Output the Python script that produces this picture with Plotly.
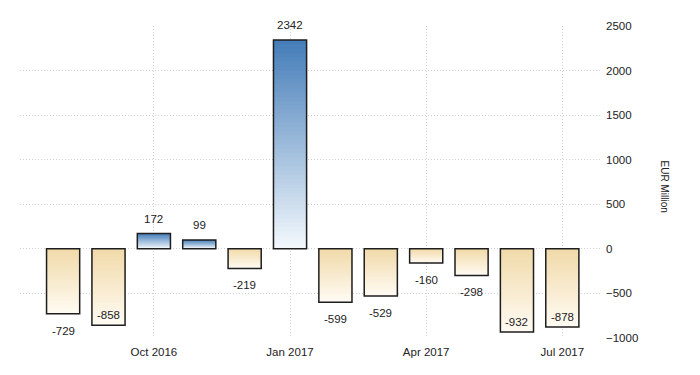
import plotly.graph_objects as go

months = ["Aug 2016", "Sep 2016", "Oct 2016", "Nov 2016", "Dec 2016", "Jan 2017",
          "Feb 2017", "Mar 2017", "Apr 2017", "May 2017", "Jun 2017", "Jul 2017"]
values = [-729, -858, 172, 99, -219, 2342, -599, -529, -160, -298, -932, -878]
tick_months = ["Oct 2016", "Jan 2017", "Apr 2017", "Jul 2017"]
inside_label_months = ["Sep 2016", "Jun 2017", "Jul 2017"]
y_ticks = [-1000, -500, 0, 500, 1000, 1500, 2000, 2500]

pos = list(range(len(months)))
FONT = "Liberation Sans Narrow, Arial Narrow, Liberation Sans, Arial, sans-serif"
BAR_W = 0.73

def lerp(c1, c2, t):
    return "rgb(%d,%d,%d)" % tuple(round(a + (b - a) * t) for a, b in zip(c1, c2))

POS_TOP, POS_BOTTOM = (70, 126, 185), (242, 247, 252)
NEG_BOTTOM, NEG_TOP = (255, 251, 243), (241, 218, 170)

fig = go.Figure()

# gradient shading (layered bars, same positions as the data bars)
K = 48
for k in range(K):
    frac = (K - k) / K
    t = k / (K - 1)
    cols = [lerp(POS_TOP, POS_BOTTOM, t) if v >= 0 else lerp(NEG_BOTTOM, NEG_TOP, t) for v in values]
    fig.add_trace(go.Bar(x=pos, y=[v * frac for v in values], width=BAR_W,
                         marker=dict(color=cols, line=dict(width=0)),
                         hoverinfo="skip", showlegend=False))

# data bars (outline)
fig.add_trace(go.Bar(x=pos, y=values, width=BAR_W,
                     marker=dict(color="rgba(0,0,0,0)", line=dict(color="#1e1e1e", width=1.5)),
                     showlegend=False, name="EUR Million"))

# value labels
for m, p, v in zip(months, pos, values):
    if m in inside_label_months:
        shift = 10
    else:
        shift = 15 if v >= 0 else -17
    fig.add_annotation(x=p, y=v, text=str(v), showarrow=False, yshift=shift,
                       yanchor="middle", font=dict(family=FONT, size=11.5, color="#222"))

fig.add_annotation(x=1.124, y=0.484, xref="paper", yref="paper", text="EUR Million",
                   textangle=90, showarrow=False,
                   font=dict(family=FONT, size=10, color="#222"))

fig.update_layout(
    width=700, height=375, barmode="overlay",
    margin=dict(l=12, r=108, t=15, b=45),
    plot_bgcolor="white", paper_bgcolor="white",
    font=dict(family=FONT, size=11.5, color="#222"),
    xaxis=dict(range=[-0.95, 11.83], tickvals=[months.index(m) for m in tick_months],
               ticktext=tick_months, showgrid=True, gridcolor="#cfcfcf", griddash="1px,2px",
               gridwidth=1, zeroline=False, showline=False, ticks="", ticklabelstandoff=5),
    yaxis=dict(side="right", range=[-1000, 2500], tickvals=y_ticks, showgrid=True,
               gridcolor="#cfcfcf", griddash="1px,2px", gridwidth=1, zeroline=False,
               showline=False, ticks="", ticklabelstandoff=5),
)

fig.write_html("out.html")
